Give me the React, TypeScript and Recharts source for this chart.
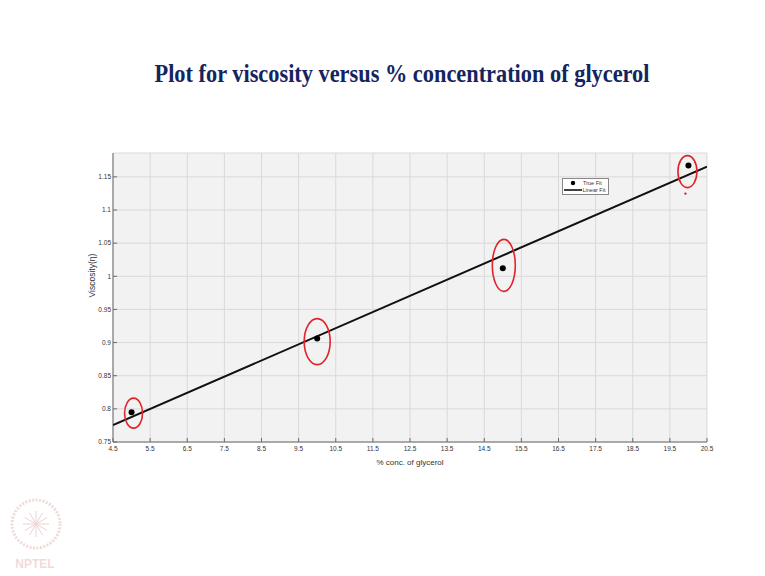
import { CartesianGrid, Legend, Scatter, ScatterChart, XAxis, YAxis } from "recharts";

// values
const concentration = [5, 10, 15, 20];
const viscosity = [0.795, 0.906, 1.012, 1.167];
const fitConcentration = [4.5, 20.5];
const fitViscosity = [0.7755, 1.1655];
const xTicks = [4.5, 5.5, 6.5, 7.5, 8.5, 9.5, 10.5, 11.5, 12.5, 13.5, 14.5, 15.5, 16.5, 17.5, 18.5, 19.5, 20.5];
const yTicks = [0.75, 0.8, 0.85, 0.9, 0.95, 1, 1.05, 1.1, 1.15];
const yTop = 1.186;

const points = concentration.map((c, i) => ({ x: c, y: viscosity[i] }));
const fit = fitConcentration.map((c, i) => ({ x: c, y: fitViscosity[i] }));

// hand drawn red rings around the points (size / offset only)
const rings = [
    { dx: 2, dy: 1, rx: 9, ry: 15 },
    { dx: 0, dy: 3, rx: 13, ry: 23 },
    { dx: 1, dy: -3, rx: 11.5, ry: 26 },
    { dx: -1, dy: 6, rx: 9.5, ry: 16 },
];

const RED = "#e0242a";
const AXIS = "#6a6a6a";
const tickFont = { fontSize: 6.5, fill: "#333", fontFamily: "Liberation Sans" };

function Ring(props: any) {
    const i = concentration.indexOf(props.payload?.x);
    const r = rings[i] || rings[0];
    const cx = props.cx + r.dx;
    const cy = props.cy + r.dy;
    return (
        <g>
            <ellipse cx={cx} cy={cy} rx={r.rx} ry={r.ry} fill="none" stroke={RED} strokeWidth={1.6} />
            {i === 3 && <circle cx={cx - 2} cy={cy + 22} r={1.2} fill={RED} />}
        </g>
    );
}

function Dot(props: any) {
    return <circle cx={props.cx} cy={props.cy} r={3} fill="#000" />;
}

function LegendBox() {
    return (
        <svg width={48} height={18} style={{ display: "block" }}>
            <rect x={0.5} y={0.5} width={46} height={16} fill="#fff" stroke="#888" />
            <circle cx={11} cy={5} r={2.2} fill="#000" />
            <text x={21} y={7} fontSize={5.5} fontFamily="Liberation Sans" fill="#333">True Fit</text>
            <line x1={2} y1={12} x2={20} y2={12} stroke="#000" strokeWidth={1.5} />
            <text x={20.5} y={14} fontSize={5.5} fontFamily="Liberation Sans" fill="#333">Linear Fit</text>
        </svg>
    );
}

export default function App() {
    return (
        <div style={{ position: "absolute", left: 0, top: 0, width: 765, height: 576, background: "#fff" }}>
            <svg width={765} height={110} style={{ position: "absolute", left: 0, top: 0 }}>
                <text x={402} y={82} textAnchor="middle" fontFamily="Liberation Serif" fontWeight="bold"
                    fontSize={26} textLength={495} lengthAdjust="spacingAndGlyphs" fill="#14245e">
                    Plot for viscosity versus % concentration of glycerol
                </text>
            </svg>

            <div style={{ position: "absolute", left: 0, top: 0 }}>
                <ScatterChart width={765} height={576} margin={{ top: 153, right: 58, bottom: 104, left: 83 }}>
                    <CartesianGrid stroke="#d9d9d9" fill="#f2f2f2" strokeWidth={1} />
                    <XAxis dataKey="x" type="number" domain={[4.5, 20.5]} ticks={xTicks} height={30}
                        stroke={AXIS} tickSize={-4} tickMargin={8} tick={tickFont} allowDataOverflow
                        label={{ value: "% conc. of glycerol", position: "insideBottom", offset: 7, fontSize: 8, fill: "#333", fontFamily: "Liberation Sans" }} />
                    <XAxis xAxisId="top" orientation="top" type="number" domain={[4.5, 20.5]} ticks={xTicks}
                        height={0} stroke={AXIS} tickSize={-4} tick={false} allowDataOverflow />
                    <YAxis dataKey="y" type="number" domain={[0.75, yTop]} ticks={yTicks} width={30}
                        stroke={AXIS} tickSize={-4} tickMargin={6} tick={tickFont} allowDataOverflow
                        label={{ value: "Viscosity(η)", angle: -90, position: "insideLeft", offset: 9, fontSize: 8.5, fill: "#333", fontFamily: "Liberation Sans" }} />
                    <YAxis yAxisId="right" orientation="right" type="number" domain={[0.75, yTop]} ticks={yTicks}
                        width={0} stroke={AXIS} tickSize={-4} tick={false} allowDataOverflow />
                    <Legend layout="horizontal" verticalAlign="middle" align="center" content={<LegendBox />}
                        wrapperStyle={{ left: 562, top: 178, width: 48, height: 18 }} />
                    <Scatter name="Linear Fit" data={fit} line={{ stroke: "#111", strokeWidth: 2 }}
                        shape={() => <g />} isAnimationActive={false} />
                    <Scatter name="True Fit" data={points} shape={<Dot />} isAnimationActive={false} />
                    <Scatter name="marks" data={points} shape={<Ring />} legendType="none" isAnimationActive={false} />
                </ScatterChart>
            </div>

            <svg width={80} height={90} style={{ position: "absolute", left: 0, top: 488 }} opacity={0.35}>
                <circle cx={36} cy={36} r={24} fill="none" stroke="#d9998f" strokeWidth={3} strokeDasharray="2 1.5" />
                {[0, 30, 60, 90, 120, 150].map((a) => (
                    <line key={a} x1={36 + 13 * Math.cos((a * Math.PI) / 180)} y1={36 + 13 * Math.sin((a * Math.PI) / 180)}
                        x2={36 - 13 * Math.cos((a * Math.PI) / 180)} y2={36 - 13 * Math.sin((a * Math.PI) / 180)}
                        stroke="#c98a85" strokeWidth={1} />
                ))}
                <text x={35} y={80} textAnchor="middle" fontFamily="Liberation Sans" fontWeight="bold" fontSize={12} fill="#d9998f">NPTEL</text>
            </svg>
        </div>
    );
}
